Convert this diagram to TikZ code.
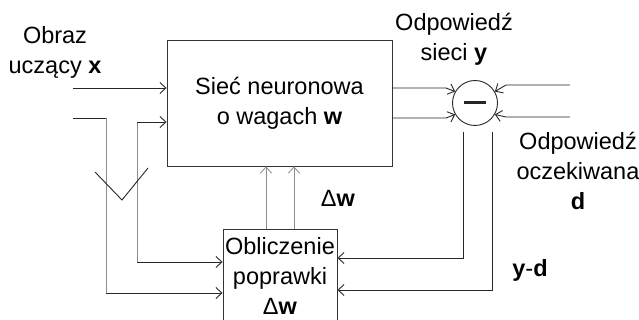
\documentclass[tikz,border=0pt]{standalone}
\usepackage{fontspec}
\setmainfont{Liberation Sans}
\usetikzlibrary{arrows.meta}
\begin{document}
\begin{tikzpicture}[x=1pt,y=-1pt,
  line/.style={draw=black!85, line width=0.9pt},
  faint/.style={draw=black!45, line width=0.8pt},
  arr/.style={-{Straight Barb[length=6pt,width=11pt]}},
  lbl/.style={font=\fontsize{23.5}{30}\selectfont, align=center, inner sep=0pt},
  box/.style={draw=black!80, line width=0.9pt, rectangle, inner sep=0pt}]
\useasboundingbox (0,0) rectangle (639,320);
% boxes
\node[box, lbl, minimum width=225pt, minimum height=126pt] (net) at (279.5,103) {Sieć neuronowa\\o wagach \textbf{w}};
\node[box, lbl, minimum width=114pt, minimum height=94pt] (corr) at (280,276) {Obliczenie\\poprawki\\Δ\textbf{w}};
\node[draw=black!85, line width=0.9pt, circle, minimum size=45pt, inner sep=0pt] (sum) at (475,103) {};
\draw[line width=3pt, black!85] (sum.center) ++(-11,0) coordinate (m1) -- ++(22,0) coordinate (m2);
% labels
\node[lbl] (obraz) at (55,52) {Obraz\\uczący \textbf{x}};
\node[lbl] (odpy) at (454,39) {Odpowiedź\\sieci \textbf{y}};
\node[lbl] (odpd) at (578,171) {Odpowiedź\\oczekiwana\\\textbf{d}};
\node[lbl] (dw) at (338,198) {Δ\textbf{w}};
\node[lbl] (yd) at (530,270) {\textbf{y}-\textbf{d}};
% coordinates
\coordinate (inA) at (73,88);
\coordinate (inB) at (73,118);
\coordinate (bA) at (106,118);
\coordinate (bB) at (106,293);
\coordinate (cA) at (137,122);
\coordinate (cB) at (137,262);
\coordinate (v1) at (95,172);
\coordinate (v2) at (122,200);
\coordinate (v3) at (148,168);
\coordinate (u1) at (266,0);
\coordinate (u2) at (294,0);
\coordinate (oA) at (393,88);
\coordinate (oB) at (393,118);
\coordinate (kA) at (446,88);
\coordinate (kB) at (446,118);
\coordinate (dA) at (570,85);
\coordinate (dB) at (570,117);
\coordinate (jA) at (506,85);
\coordinate (jB) at (506,117);
\coordinate (p1) at (463,132);
\coordinate (p2) at (463,258);
\coordinate (q1) at (492,132);
\coordinate (q2) at (492,290);
% left inputs
\draw[line,arr] (inA) -- (net.west |- inA);
\draw[line] (inB) -- (bA);
\draw[faint] (bA) -- (bB);
\draw[line,arr] (bB) -- (corr.west |- bB);
\draw[faint] (cA) -- (cB);
\draw[line,arr] (cA) -- (net.west |- cA);
\draw[line,arr] (cB) -- (corr.west |- cB);
\draw[line] (v1) -- (v2) -- (v3);
% corrections up
\draw[faint,arr] (corr.north -| u1) -- (net.south -| u1);
\draw[faint,arr] (corr.north -| u2) -- (net.south -| u2);
% to comparator
\draw[line,arr] (oA) -- (kA) -- (sum.150);
\draw[line,arr] (oB) -- (kB) -- (sum.210);
\draw[line,arr] (dA) -- (jA) -- (sum.30);
\draw[line,arr] (dB) -- (jB) -- (sum.-30);
% error back
\draw[line,arr] (p1) -- (p2) -- (corr.east |- p2);
\draw[line,arr] (q1) -- (q2) -- (corr.east |- q2);
\end{tikzpicture}
\end{document}
